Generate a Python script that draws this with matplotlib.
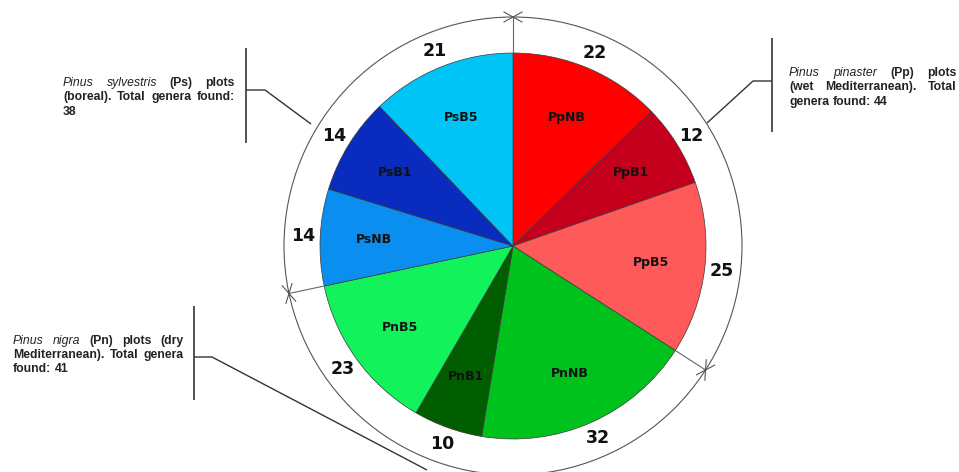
import matplotlib
matplotlib.use('Agg')
import matplotlib.pyplot as plt
from matplotlib.patches import Circle
import numpy as np

labels = ['PpNB', 'PpB1', 'PpB5', 'PnNB', 'PnB1', 'PnB5', 'PsNB', 'PsB1', 'PsB5']
values = [22, 12, 25, 32, 10, 23, 14, 14, 21]
colors = ['#FF0000', '#C4001C', '#FF5A5A', '#00C21C', '#005E00', '#12F25A',
          '#0A8EF0', '#0A2CBE', '#00C4F6']
group_starts = [0, 3, 6]

notes = {
    'Ps': [[('Pinus', 'i'), ('sylvestris', 'i'), ('(Ps)', 'b'), ('plots', 'b')],
           [('(boreal).', 'b'), ('Total', 'b'), ('genera', 'b'), ('found:', 'b')],
           [('38', 'b')]],
    'Pp': [[('Pinus', 'i'), ('pinaster', 'i'), ('(Pp)', 'b'), ('plots', 'b')],
           [('(wet', 'b'), ('Mediterranean).', 'b'), ('Total', 'b')],
           [('genera', 'b'), ('found:', 'b'), ('44', 'b')]],
    'Pn': [[('Pinus', 'i'), ('nigra', 'i'), ('(Pn)', 'b'), ('plots', 'b'), ('(dry', 'b')],
           [('Mediterranean).', 'b'), ('Total', 'b'), ('genera', 'b')],
           [('found:', 'b'), ('41', 'b')]],
}

W, H = 959, 472
fig = plt.figure(figsize=(9.59, 4.72), dpi=100)
ax = fig.add_axes([0, 0, 1, 1])

def P(x, y):
    return x, H - y

cx, cy = P(513, 246)
R = 193
Ro = 229

wedges, _ = ax.pie(values, colors=colors, startangle=90, counterclock=False,
                   radius=R, center=(cx, cy),
                   wedgeprops=dict(edgecolor='#3a3a3a', linewidth=0.5))
ax.set_xlim(0, W)
ax.set_ylim(0, H)
ax.set_aspect('equal')
ax.axis('off')

ax.add_patch(Circle((cx, cy), Ro, fill=False, ec='#555555', lw=0.8))

for w, lab, v in zip(wedges, labels, values):
    a = np.deg2rad((w.theta1 + w.theta2) / 2)
    ax.text(cx + 0.72 * R * np.cos(a), cy + 0.72 * R * np.sin(a), lab,
            ha='center', va='center', fontsize=9, color='#111111',
            family=['DejaVu Sans'], weight='bold')
    ax.text(cx + 1.088 * R * np.cos(a), cy + 1.088 * R * np.sin(a), str(v),
            ha='center', va='center', fontsize=12.5, color='#111111',
            family=['DejaVu Sans'], weight='bold')

# group boundaries: radial tick + double arrow mark on outer circle
for gi in group_starts:
    a = np.deg2rad(wedges[gi].theta2)
    n = np.array([np.cos(a), np.sin(a)])
    t = np.array([-np.sin(a), np.cos(a)])
    c = np.array([cx, cy])
    p0 = c + R * n
    p1 = c + Ro * n
    ax.plot([p0[0], p1[0]], [p0[1], p1[1]], color='#666666', lw=0.8)
    L, wd = 9, 5
    for s in (1, -1):
        for q in (1, -1):
            e = p1 + s * L * t + q * wd * n
            ax.plot([e[0], p1[0]], [e[1], p1[1]], color='#555555', lw=0.8)

# leader lines and brackets (pixel layout)
lc = '#333333'
def seg(pts, lw=1.0, col=lc):
    xs = [p[0] for p in pts]
    ys = [H - p[1] for p in pts]
    ax.plot(xs, ys, color=col, lw=lw, solid_capstyle='butt')

seg([(246, 48), (246, 143)], lw=1.3, col='#444444')
seg([(246, 90), (265, 90), (311, 124)])
seg([(772, 38), (772, 132)], lw=1.3, col='#444444')
seg([(772, 81), (753, 81), (707, 123)])
seg([(194, 306), (194, 400)], lw=1.3, col='#444444')
seg([(194, 357), (212, 357), (427, 470)])

# justified annotation blocks
fig.canvas.draw()
renderer = fig.canvas.get_renderer()

def block(lines, left, right, ys):
    for li, (toks, y) in enumerate(zip(lines, ys)):
        objs = []
        for word, st in toks:
            kw = dict(family=['Liberation Sans', 'DejaVu Sans'], fontsize=8.8,
                      color='#222222', va='center', ha='left')
            if st == 'i':
                kw['style'] = 'italic'
            else:
                kw['weight'] = 'bold'
            objs.append(ax.text(0, H - y, word, **kw))
        widths = [o.get_window_extent(renderer).width for o in objs]
        last = li == len(lines) - 1
        if last or len(objs) == 1:
            gap = 3.5
        else:
            gap = (right - left - sum(widths)) / (len(objs) - 1)
        x = left
        for o, wdt in zip(objs, widths):
            o.set_x(x)
            x += wdt + gap

block(notes['Ps'], 63, 235, [83, 97, 112])
block(notes['Pp'], 789, 957, [73, 87, 102])
block(notes['Pn'], 13, 184, [341, 355, 369])

fig.savefig('out.png', dpi=100)
